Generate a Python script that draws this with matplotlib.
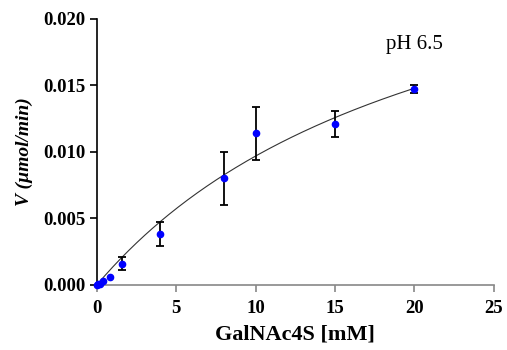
import numpy as np
import matplotlib.pyplot as plt

plt.rcParams["font.family"] = ["Liberation Serif", "DejaVu Serif"]

# measured substrate concentrations and velocities
conc = [0.0, 0.1, 0.2, 0.4, 0.8, 1.6, 4.0, 8.0, 10.0, 15.0, 20.0]
rate = [0.0, 0.00005, 0.0001, 0.0003, 0.0006, 0.0016, 0.0038, 0.0080, 0.0114, 0.0121, 0.0147]
err = [0, 0, 0, 0, 0, 0.0005, 0.0009, 0.0020, 0.0020, 0.0010, 0.0003]

# Michaelis-Menten fit parameters
vmax = 0.0312
km = 22.2

fig = plt.figure(figsize=(5.07, 3.5), dpi=100)
ax = fig.add_axes([0.191, 0.186, 0.783, 0.760])

s = np.linspace(0, 20, 200)
ax.plot(s, vmax * s / (km + s), color="#333333", lw=0.8, zorder=2)

errs = [e if e > 0 else np.nan for e in err]
ax.errorbar(conc, rate, yerr=errs, fmt="none", ecolor="black",
            elinewidth=1.3, capsize=3, capthick=1.3, zorder=3)
ax.plot(conc, rate, "o", color="#0000ff", ms=4.5, zorder=4, clip_on=False)

ax.set_xlim(0, 25)
ax.set_ylim(0, 0.020)
ax.set_xticks([0, 5, 10, 15, 20, 25])
ax.set_yticks([0, 0.005, 0.010, 0.015, 0.020])
ax.set_yticklabels(["0.000", "0.005", "0.010", "0.015", "0.020"])

for sp in ["top", "right"]:
    ax.spines[sp].set_visible(False)
ax.spines["left"].set_color("black")
ax.spines["bottom"].set_color("#888888")
ax.spines["left"].set_linewidth(1.2)
ax.spines["bottom"].set_linewidth(1.2)
ax.tick_params(axis="y", direction="out", length=5, width=1.2, colors="black")
ax.tick_params(axis="x", direction="out", length=5, width=1.2, color="#888888", pad=6)
for lab in ax.get_xticklabels() + ax.get_yticklabels():
    lab.set_fontsize(13.5)
    lab.set_fontweight("bold")

ax.set_xlabel("GalNAc4S [mM]", fontsize=16, fontweight="bold", labelpad=5)
ax.set_ylabel("V (µmol/min)", fontsize=14, fontweight="bold", style="italic", labelpad=7)

ax.text(18.2, 0.0177, "pH 6.5", fontsize=15)

fig.savefig("out.png", dpi=100)
